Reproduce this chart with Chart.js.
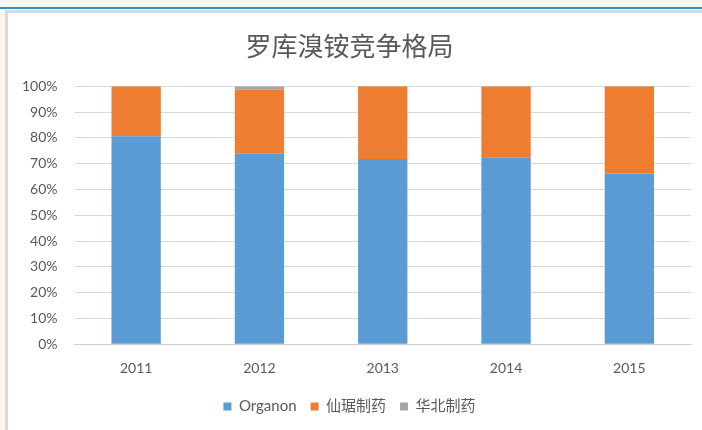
<!DOCTYPE html>
<html>
<head>
<meta charset="utf-8">
<script src="https://cdn.jsdelivr.net/npm/chart.js@4/dist/chart.umd.min.js"></script>
<style>
  html, body { margin: 0; padding: 0; }
  body { width: 702px; height: 430px; background: #fef8ec; position: relative; overflow: hidden; }
  #topline { position: absolute; left: 0; top: 7px; width: 702px; height: 2px; background: #2a8fd3; }
  #frame { position: absolute; left: 5px; top: 10px; width: 700px; height: 430px; border-left: 3px solid #dadada; border-top: 3px solid #dadada; background: #fff; }
  #wrap { position: absolute; left: 0; top: 0; width: 694px; height: 417px; }
</style>
</head>
<body>
<div id="topline"></div>
<div id="frame"><div id="wrap"><canvas id="chart_main"></canvas></div></div>
<script>
// -------------------- data
var years = ['2011', '2012', '2013', '2014', '2015'];
var organon = [80.6, 73.8, 71.8, 72.3, 66.2];
var xianju  = [19.4, 24.9, 28.2, 27.7, 33.8];
var huabei  = [0, 1.3, 0, 0, 0];
var seriesNames = ['Organon', '仙琚制药', '华北制药'];
var seriesColors = ['#5b9bd5', '#ed7d31', '#a5a5a5'];
var yTicks = [0, 10, 20, 30, 40, 50, 60, 70, 80, 90, 100];

var fnt = "Lato, 'Noto Sans CJK SC', sans-serif";
var txt = '#595959';

var vals = [organon, xianju, huabei];
var dtsheet = [];
for (var i = 0; i < vals.length; i++) {
	dtsheet[i] = {
		label: seriesNames[i],
		data: vals[i],
		backgroundColor: seriesColors[i],
		borderWidth: 0,
		barPercentage: 0.4,
		categoryPercentage: 1
	};
}

var ctx = document.getElementById('chart_main').getContext('2d');
window.chart_main = new Chart(ctx, {
	type: 'bar',
	data: { labels: years, datasets: dtsheet },
	options: {
		responsive: true,
		maintainAspectRatio: false,
		animation: false,
		layout: { padding: { left: 0, right: 11, top: 0, bottom: 6 } },
		plugins: {
			title: {
				display: true,
				text: '罗库溴铵竞争格局',
				color: txt,
				font: { family: fnt, size: 26, weight: 'normal' },
				padding: { top: 19, bottom: 23 }
			},
			legend: {
				position: 'bottom',
				labels: {
					color: txt,
					font: { family: fnt, size: 15 },
					boxWidth: 8,
					boxHeight: 8,
					padding: 14
				}
			},
			tooltip: { enabled: false }
		},
		scales: {
			x: {
				stacked: true,
				afterFit: function (scale) { scale.height = scale.height - 8; },
				grid: { display: false, drawTicks: false },
				border: { color: '#d0d0d0' },
				ticks: { color: txt, font: { family: fnt, size: 14 }, padding: 16 }
			},
			y: {
				stacked: true,
				min: 0,
				max: 100,
				afterFit: function (scale) { scale.width = 66.5; },
				afterBuildTicks: function (scale) {
					scale.ticks = yTicks.map(function (v) { return { value: v }; });
				},
				grid: { color: '#d9d9d9', drawTicks: false },
				border: { display: false },
				ticks: {
					color: txt,
					font: { family: fnt, size: 14 },
					padding: 17,
					callback: function (v) { return v + '%'; }
				}
			}
		}
	}
});
</script>
</body>
</html>
